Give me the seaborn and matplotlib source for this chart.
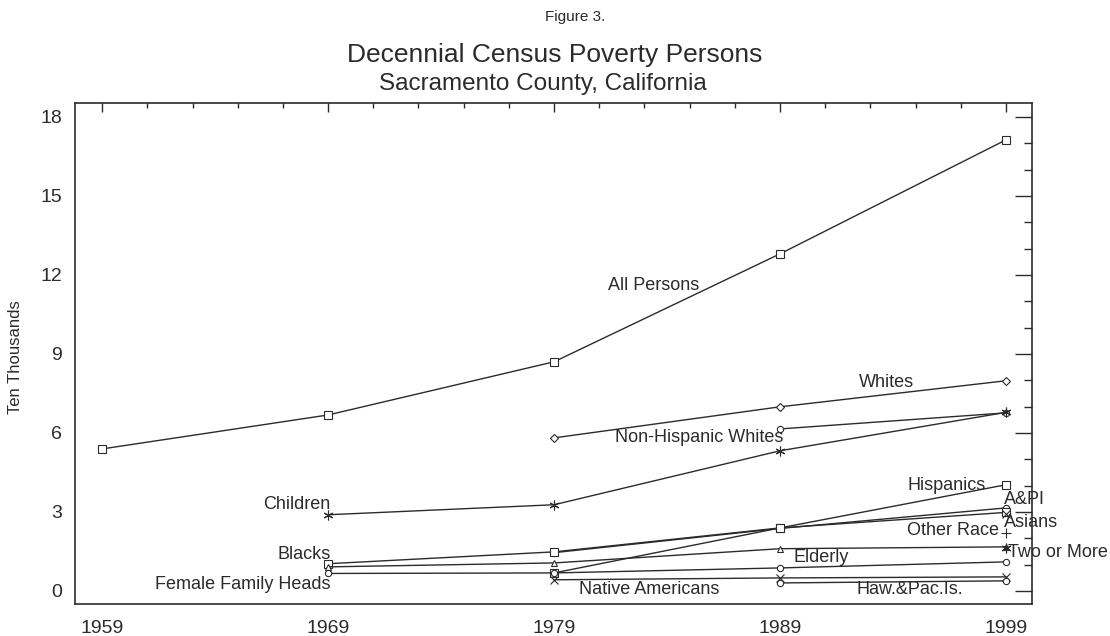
import numpy as np
import pandas as pd
import matplotlib
matplotlib.use("Agg")
import matplotlib.pyplot as plt
from matplotlib.ticker import MultipleLocator, FixedLocator
import seaborn as sns

# Census years and poverty persons (in ten thousands) per group
years = [1959, 1969, 1979, 1989, 1999]
nan = np.nan
all_persons = [5.39, 6.68, 8.70, 12.80, 17.13]
whites = [nan, nan, 5.81, 6.99, 7.98]
non_hispanic_whites = [nan, nan, nan, 6.15, 6.76]
children = [nan, 2.89, 3.27, 5.32, 6.78]
hispanics = [nan, nan, 0.68, 2.39, 4.03]
api = [nan, nan, 1.45, 2.37, 3.15]
blacks = [nan, 1.03, 1.48, 2.39, 2.98]
asians = [nan, nan, nan, nan, 2.92]
other_race = [nan, nan, nan, nan, 2.20]
elderly = [nan, 0.91, 1.06, 1.60, 1.67]
female_family_heads = [nan, 0.66, 0.68, 0.87, 1.10]
two_or_more = [nan, nan, nan, nan, 1.63]
native_americans = [nan, nan, 0.42, 0.49, 0.53]
haw_pac_is = [nan, nan, nan, 0.30, 0.38]

series_names = ["All Persons", "Whites", "Non-Hispanic Whites", "Children",
                "Hispanics", "A&PI", "Blacks", "Asians", "Other Race",
                "Elderly", "Female Family Heads", "Two or More",
                "Native Americans", "Haw.&Pac.Is."]
series_values = [all_persons, whites, non_hispanic_whites, children,
                 hispanics, api, blacks, asians, other_race,
                 elderly, female_family_heads, two_or_more,
                 native_americans, haw_pac_is]
asterisk = (6, 2, 0)
series_markers = ["s", "D", "o", asterisk, "s", "o", "s", "x", "+",
                  "^", "o", asterisk, "x", "o"]


def marker_size(mk):
    sizes = {"s": 5.5, "D": 3.8, "o": 4.5, "x": 5.5, "+": 6.5, "^": 5.0}
    return sizes.get(mk, 7.0) if isinstance(mk, str) else 7.0


sns.set_style("white")
plt.rcParams["font.family"] = ["Liberation Sans", "DejaVu Sans"]
ink = "#2b2b2b"

fig = plt.figure(figsize=(11.10, 6.36), dpi=100)
ax = fig.add_axes([75 / 1110, 1 - 604 / 636, 957 / 1110, 501 / 636])

for name, vals, mk in zip(series_names, series_values, series_markers):
    df = pd.DataFrame({"year": years, "value": vals}).dropna()
    filled = not isinstance(mk, str) or mk in ("x", "+")
    sns.lineplot(data=df, x="year", y="value", ax=ax, color=ink,
                 linewidth=1.0, marker=mk, markersize=marker_size(mk),
                 markerfacecolor=ink if filled else "white",
                 markeredgecolor=ink, markeredgewidth=0.8,
                 legend=False, zorder=3)

# Series labels placed beside their lines
label_specs = [
    ("All Persons", 1983.4, 11.58, "center"),
    ("Whites", 1993.7, 7.90, "center"),
    ("Non-Hispanic Whites", 1985.4, 5.81, "center"),
    ("Children", 1969.1, 3.27, "right"),
    ("Blacks", 1969.1, 1.37, "right"),
    ("Female Family Heads", 1969.1, 0.23, "right"),
    ("Native Americans", 1980.1, 0.04, "left"),
    ("Haw.&Pac.Is.", 1992.4, 0.04, "left"),
    ("Elderly", 1989.6, 1.25, "left"),
    ("Hispanics", 1998.1, 3.99, "right"),
    ("A&PI", 1998.9, 3.46, "left"),
    ("Asians", 1998.9, 2.58, "left"),
    ("Other Race", 1998.7, 2.28, "right"),
    ("Two or More", 1999.1, 1.44, "left"),
]
for text, x, y, ha in label_specs:
    ax.text(x, y, text, ha=ha, va="center", fontsize=13, color=ink,
            clip_on=False, zorder=4)

ax.set_xlim(1957.8, 2000.15)
ax.set_ylim(-0.5, 18.53)
ax.xaxis.set_major_locator(FixedLocator(years))
ax.xaxis.set_minor_locator(FixedLocator(np.arange(1961, 1999, 2)))
ax.yaxis.set_major_locator(MultipleLocator(3))
ax.yaxis.set_minor_locator(MultipleLocator(1))
ax.set_xlabel("")
ax.set_ylabel("")

ax.tick_params(axis="both", which="both", direction="in", top=True,
               right=True, colors=ink, labelsize=14, width=1.0)
ax.tick_params(axis="y", which="major", length=12, pad=9.4)
ax.tick_params(axis="y", which="minor", length=5.8)
ax.tick_params(axis="x", which="major", length=6.5, pad=11.5)
ax.tick_params(axis="x", which="minor", length=3.6)
for sp in ax.spines.values():
    sp.set_visible(True)
    sp.set_color(ink)
    sp.set_linewidth(1.2)

fig.text(16 / 1110, 1 - 357 / 636, "Ten Thousands", rotation=90,
         ha="center", va="center", fontsize=12, color=ink)
fig.text(575 / 1110, 1 - 17 / 636, "Figure 3.", ha="center", va="center",
         fontsize=11, color=ink)
fig.text(555 / 1110, 1 - 55 / 636, "Decennial Census Poverty Persons",
         ha="center", va="center", fontsize=19, color=ink)
fig.text(543 / 1110, 1 - 84 / 636, "Sacramento County, California",
         ha="center", va="center", fontsize=17.5, color=ink)

fig.savefig("out.png", dpi=100, facecolor="white")
